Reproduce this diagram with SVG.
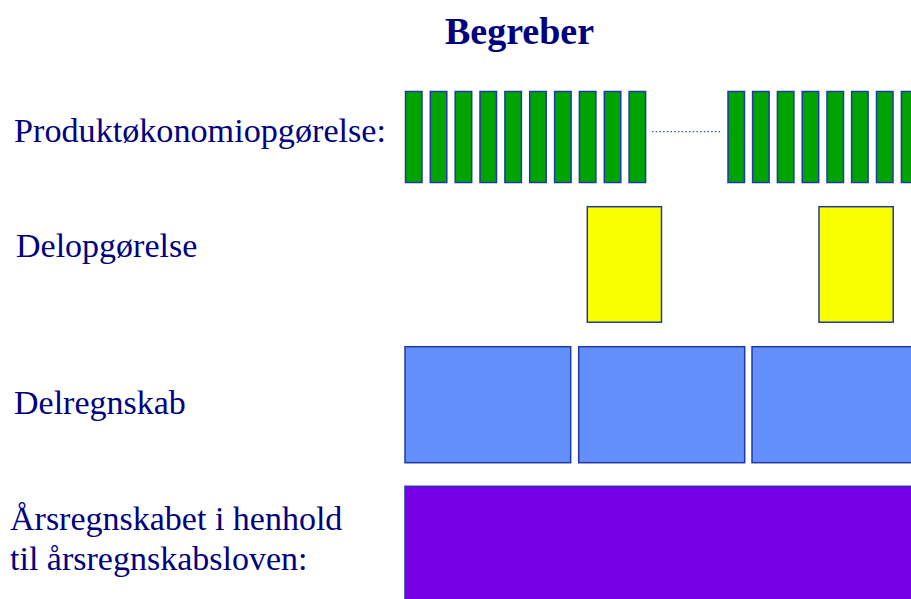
<svg xmlns="http://www.w3.org/2000/svg" width="911" height="599" viewBox="0 0 911 599">
<style>
text{font-family:"Liberation Serif","Times New Roman",serif;fill:#000080}
.lbl{font-size:34px}
.title{font-size:38px;font-weight:bold}
.box{stroke:#1e3aa6;stroke-width:1.5}
.g{fill:#00a400}
.y{fill:#faff00}
.b{fill:#638ffa}
.p{fill:#7800e4}
</style>
<rect width="911" height="599" fill="#ffffff"/>
<g id="title"><text class="title" x="519.5" y="43.5" text-anchor="middle">Begreber</text></g>
<g id="labels">
<text class="lbl" x="14" y="141.5" textLength="372" lengthAdjust="spacingAndGlyphs">Produktøkonomiopgørelse:</text>
<text class="lbl" x="16" y="256.5">Delopgørelse</text>
<text class="lbl" x="14" y="413.5">Delregnskab</text>
<text class="lbl" x="10" y="530">Årsregnskabet i henhold</text>
<text class="lbl" x="10" y="570">til årsregnskabsloven:</text>
</g>
<g id="produkt-bars">
<rect class="box g" x="405.5" y="91.5" width="16.5" height="91"/>
<rect class="box g" x="430.3" y="91.5" width="16.5" height="91"/>
<rect class="box g" x="455.2" y="91.5" width="16.5" height="91"/>
<rect class="box g" x="480" y="91.5" width="16.5" height="91"/>
<rect class="box g" x="504.9" y="91.5" width="16.5" height="91"/>
<rect class="box g" x="529.7" y="91.5" width="16.5" height="91"/>
<rect class="box g" x="554.6" y="91.5" width="16.5" height="91"/>
<rect class="box g" x="579.4" y="91.5" width="16.5" height="91"/>
<rect class="box g" x="604.3" y="91.5" width="16.5" height="91"/>
<rect class="box g" x="629.1" y="91.5" width="16.5" height="91"/>
<rect class="box g" x="728" y="91.5" width="16.5" height="91"/>
<rect class="box g" x="752.6" y="91.5" width="16.5" height="91"/>
<rect class="box g" x="777.4" y="91.5" width="16.5" height="91"/>
<rect class="box g" x="802.2" y="91.5" width="16.5" height="91"/>
<rect class="box g" x="827" y="91.5" width="16.5" height="91"/>
<rect class="box g" x="851.6" y="91.5" width="16.5" height="91"/>
<rect class="box g" x="876.5" y="91.5" width="16.5" height="91"/>
<rect class="box g" x="901.4" y="91.5" width="16.5" height="91"/>
</g>
<g id="connectors">
<line x1="652" y1="131.7" x2="721" y2="131.7" stroke="#2f4fd0" stroke-width="1.2" stroke-dasharray="1.5 2.2"/>
</g>
<g id="delopgorelse">
<rect class="box y" x="587.3" y="206.7" width="74.2" height="115.5"/>
<rect class="box y" x="819" y="206.7" width="74.2" height="115.5"/>
</g>
<g id="delregnskab">
<rect class="box b" x="405" y="346.7" width="165.7" height="116"/>
<rect class="box b" x="578.7" y="346.7" width="166" height="116"/>
<rect class="box b" x="752" y="346.7" width="170" height="116"/>
</g>
<g id="aarsregnskab">
<rect class="box p" x="405" y="486.3" width="520" height="125"/>
</g>
</svg>
